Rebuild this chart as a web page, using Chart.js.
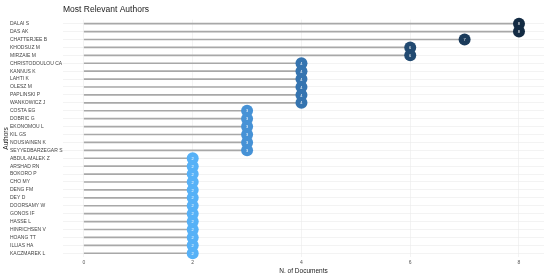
<!DOCTYPE html>
<html>
<head>
<meta charset="utf-8">
<script src="https://cdn.jsdelivr.net/npm/chart.js@4.4.0/dist/chart.umd.min.js"></script>
<style>
  html, body { margin: 0; padding: 0; background: #fff; }
  #wrap { width: 550px; height: 277px; }
</style>
</head>
<body>
<div id="wrap"><canvas id="authorsChart"></canvas></div>
<script>
const authors = [
    'DALAI S', 'DAS AK', 'CHATTERJEE B', 'KHODSUZ M', 'MIRZAIE M',
    'CHRISTODOULOU CA', 'KANNUS K', 'LAHTI K', 'OLESZ M', 'PAPLINSKI P',
    'WANKOWICZ J', 'COSTA EG', 'DOBRIC G', 'EKONOMOU L', 'KIL GS',
    'NOUSIAINEN K', 'SEYYEDBARZEGAR S', 'ABDUL-MALEK Z', 'ARSHAD RN', 'BOKORO P',
    'CHO MY', 'DENG FM', 'DEY D', 'DOORSAMY W', 'GONOS IF',
    'HASSE L', 'HINRICHSEN V', 'HOANG TT', 'ILLIAS HA', 'KACZMAREK L'
];
const documents = [
    8, 8, 7, 6, 6,
    4, 4, 4, 4, 4,
    4, 3, 3, 3, 3,
    3, 3, 2, 2, 2,
    2, 2, 2, 2, 2,
    2, 2, 2, 2, 2
];
const xTicks = [0, 2, 4, 6, 8];

// dark navy for many documents, light blue for few
const shade = {
    8: '#132b43',
    7: '#1b3b5b',
    6: '#224a71',
    4: '#3574b0',
    3: '#4692d6',
    2: '#56b1f7'
};

const FONT = '"Liberation Sans", Arial, sans-serif';

// write the count inside every dot, plus the rotated y title
const extras = {
    id: 'extras',
    afterDatasetsDraw(chart) {
        const ctx = chart.ctx;
        const meta = chart.getDatasetMeta(1);
        ctx.save();
        ctx.fillStyle = '#ffffff';
        ctx.font = '4px ' + FONT;
        ctx.textAlign = 'center';
        ctx.textBaseline = 'middle';
        meta.data.forEach(function (pt, i) {
            ctx.fillText(String(documents[i]), pt.x, pt.y + 0.5);
        });
        ctx.restore();
    },
    afterDraw(chart) {
        const ctx = chart.ctx;
        const area = chart.chartArea;
        ctx.save();
        ctx.translate(6, (area.top + area.bottom) / 2);
        ctx.rotate(-Math.PI / 2);
        ctx.fillStyle = '#222222';
        ctx.font = '6.5px ' + FONT;
        ctx.textAlign = 'center';
        ctx.textBaseline = 'middle';
        ctx.fillText('Authors', 0, 0);
        ctx.restore();
    }
};

const ctx = document.getElementById('authorsChart').getContext('2d');
new Chart(ctx, {
    data: {
        labels: authors,
        datasets: [{
            type: 'bar',
            data: documents,
            backgroundColor: '#a8a8a8',
            barThickness: 1,
            order: 2
        }, {
            type: 'line',
            data: documents,
            showLine: false,
            pointRadius: 6,
            pointHoverRadius: 6,
            pointBorderWidth: 0,
            pointBackgroundColor: documents.map(v => shade[v]),
            order: 1
        }]
    },
    plugins: [extras],
    options: {
        indexAxis: 'y',
        responsive: true,
        maintainAspectRatio: false,
        animation: false,
        layout: {
            padding: { left: 10, right: 5, top: 1, bottom: 1 }
        },
        plugins: {
            legend: { display: false },
            tooltip: { enabled: false },
            title: {
                display: true,
                text: 'Most Relevant Authors',
                align: 'start',
                fullSize: false,
                color: '#222222',
                font: { family: FONT, size: 8.5, weight: 'normal' },
                padding: { top: 3.5, bottom: 5 }
            }
        },
        scales: {
            x: {
                type: 'linear',
                min: -0.385,
                max: 8.46,
                afterBuildTicks: function (axis) {
                    axis.ticks = xTicks.map(v => ({ value: v }));
                },
                grid: { color: '#ebebeb', lineWidth: 0.6, drawTicks: false },
                border: { display: false },
                ticks: {
                    color: '#555555',
                    padding: 2,
                    font: { family: FONT, size: 5 }
                },
                title: {
                    display: true,
                    text: 'N. of Documents',
                    color: '#222222',
                    padding: { top: 0, bottom: 1 },
                    font: { family: FONT, size: 6.5 }
                }
            },
            y: {
                type: 'category',
                offset: true,
                afterFit: function (axis) { axis.width = 53; },
                grid: { color: '#ebebeb', lineWidth: 0.6, drawTicks: false, offset: false },
                border: { display: false },
                ticks: {
                    color: '#444444',
                    crossAlign: 'far',
                    padding: 1,
                    autoSkip: false,
                    font: { family: FONT, size: 5 }
                }
            }
        }
    }
});
</script>
</body>
</html>
